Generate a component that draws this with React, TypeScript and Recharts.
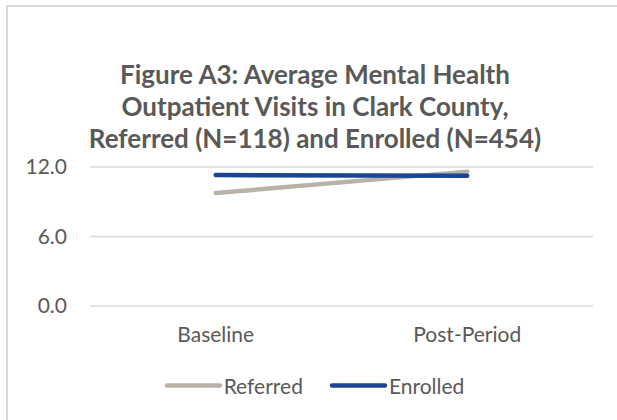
import React from "react";
import { LineChart, Line, XAxis, YAxis, CartesianGrid } from "recharts";

const categories = ["Baseline", "Post-Period"];
const referred = [9.75, 11.6];
const enrolled = [11.3, 11.25];
const yTicks = [0, 6, 12];

const series = [
  { key: "Referred", color: "#b8b3a6" },
  { key: "Enrolled", color: "#1a4596" },
];

const data = categories.map((c, i) => ({
  name: c,
  Referred: referred[i],
  Enrolled: enrolled[i],
}));

const FONT = "Lato, 'Open Sans', sans-serif";
const GREY = "#595959";

function LegendBox() {
  return (
    <div
      style={{
        position: "absolute",
        left: 0,
        width: 628,
        top: 385,
        transform: "translateY(-50%)",
        display: "flex",
        justifyContent: "center",
        gap: 26,
        fontFamily: FONT,
        fontSize: 21,
        color: GREY,
      }}
    >
      {series.map((s) => (
        <div key={s.key} style={{ display: "flex", alignItems: "center" }}>
          <svg width={59} height={8} style={{ marginRight: 1 }}>
            <line x1={3} y1={4} x2={56} y2={4} stroke={s.color} strokeWidth={4.5} strokeLinecap="round" />
          </svg>
          <span>{s.key}</span>
        </div>
      ))}
    </div>
  );
}

export default function App() {
  return (
    <div style={{ position: "absolute", left: 0, top: 0, width: 617, height: 420, background: "#fff", overflow: "hidden" }}>
      <div
        style={{
          position: "absolute",
          left: 6,
          top: 5,
          width: 700,
          height: 500,
          borderLeft: "2px solid #d9d9d9",
          borderTop: "2px solid #d9d9d9",
        }}
      />
      <div
        style={{
          position: "absolute",
          left: 14,
          width: 602,
          top: 58,
          textAlign: "center",
          fontFamily: FONT,
          fontWeight: 700,
          fontSize: 26,
          lineHeight: "32px",
          color: GREY,
        }}
      >
        Figure A3: Average Mental Health
        <br />
        Outpatient Visits in Clark County,
        <br />
        Referred (N=118) and Enrolled (N=454)
      </div>
      <div style={{ position: "absolute", left: 0, top: 0 }}>
        <LineChart width={617} height={420} data={data} margin={{ top: 167, right: 24, left: 0, bottom: 74 }}>
          <CartesianGrid vertical={false} stroke="#d9d9d9" strokeWidth={1.5} />
          <XAxis
            dataKey="name"
            scale="band"
            axisLine={false}
            tickLine={false}
            tickSize={0}
            tickMargin={21}
            height={40}
            tick={{ fontFamily: FONT, fontSize: 21, fill: GREY }}
          />
          <YAxis
            domain={[0, 12]}
            ticks={yTicks}
            width={90}
            axisLine={false}
            tickLine={false}
            tickSize={0}
            tickMargin={23}
            tickFormatter={(v: number) => v.toFixed(1)}
            tick={{ fontFamily: FONT, fontSize: 21, fill: GREY }}
          />
          {series.map((s) => (
            <Line
              key={s.key}
              dataKey={s.key}
              stroke={s.color}
              strokeWidth={4.5}
              strokeLinecap="round"
              dot={false}
              activeDot={false}
              isAnimationActive={false}
            />
          ))}
        </LineChart>
      </div>
      <LegendBox />
    </div>
  );
}
